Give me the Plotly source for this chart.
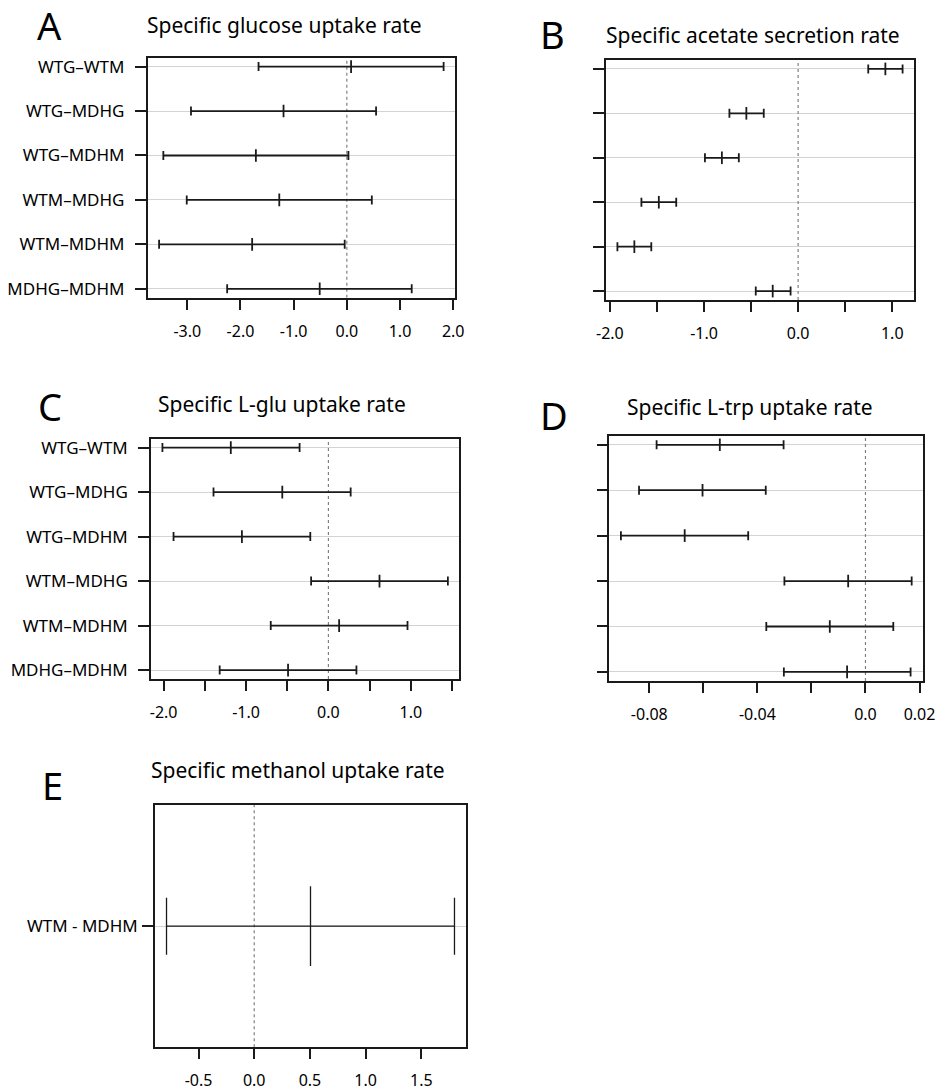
import plotly.graph_objects as go

W, H = 945, 1091

# ---------------- data ----------------
comparisons = ["WTG–WTM", "WTG–MDHG", "WTG–MDHM", "WTM–MDHG", "WTM–MDHM", "MDHG–MDHM"]
row_pos = [6, 5, 4, 3, 2, 1]

glucose_lwr = [-1.66, -2.93, -3.45, -3.01, -3.53, -2.25]
glucose_diff = [0.08, -1.19, -1.71, -1.27, -1.78, -0.51]
glucose_upr = [1.82, 0.55, 0.03, 0.47, -0.04, 1.22]

acetate_lwr = [0.745, -0.73, -0.99, -1.665, -1.92, -0.45]
acetate_diff = [0.927, -0.55, -0.81, -1.48, -1.74, -0.27]
acetate_upr = [1.11, -0.365, -0.63, -1.295, -1.56, -0.08]

lglu_lwr = [-2.015, -1.395, -1.88, -0.21, -0.70, -1.32]
lglu_diff = [-1.185, -0.56, -1.05, 0.62, 0.13, -0.49]
lglu_upr = [-0.35, 0.27, -0.22, 1.45, 0.96, 0.34]

ltrp_lwr = [-0.0773, -0.0838, -0.0905, -0.0300, -0.0367, -0.0302]
ltrp_diff = [-0.0539, -0.0603, -0.0669, -0.0064, -0.0132, -0.0068]
ltrp_upr = [-0.0303, -0.0369, -0.0434, 0.0171, 0.0103, 0.0167]

methanol_labels = ["WTM - MDHM"]
methanol_lwr = [-0.787]
methanol_diff = [0.505]
methanol_upr = [1.797]

titles = ["Specific glucose uptake rate", "Specific acetate secretion rate",
          "Specific L-glu uptake rate", "Specific L-trp uptake rate",
          "Specific methanol uptake rate"]
letters = ["A", "B", "C", "D", "E"]

xtick_vals_A = [-3, -2, -1, 0, 1, 2]
xtick_text_A = ["-3.0", "-2.0", "-1.0", "0.0", "1.0", "2.0"]
xtick_vals_B = [-2, -1.5, -1, -0.5, 0, 0.5, 1]
xtick_text_B = ["-2.0", "", "-1.0", "", "0.0", "", "1.0"]
xtick_vals_C = [-2, -1.5, -1, -0.5, 0, 0.5, 1, 1.5]
xtick_text_C = ["-2.0", "", "-1.0", "", "0.0", "", "1.0", ""]
xtick_vals_D = [-0.08, -0.06, -0.04, -0.02, 0, 0.02]
xtick_text_D = ["-0.08", "", "-0.04", "", "0.0", "0.02"]
xtick_vals_E = [-0.5, 0, 0.5, 1, 1.5]
xtick_text_E = ["-0.5", "0.0", "0.5", "1.0", "1.5"]

# ---------------- layout helpers ----------------
FONT = "Noto Sans"
INK = "#1a1a1a"


def px_x(p):
    return p / W


def px_y(p):
    return 1 - p / H


def ext(vals_lo, vals_hi, f=0.04):
    lo, hi = min(vals_lo), max(vals_hi)
    d = (hi - lo) * f
    return [lo - d, hi + d]


panels = [
    dict(lwr=glucose_lwr, diff=glucose_diff, upr=glucose_upr, labels=comparisons, ys=row_pos,
         box=(147.7, 455, 57.7, 297.7), tv=xtick_vals_A, tt=xtick_text_A, show_lab=True,
         title_xy=(284.7, 25), letter_xy=(49.5, 25), cap=4.5, mid=9, lw=1.8, ylab_pad=7),
    dict(lwr=acetate_lwr, diff=acetate_diff, upr=acetate_upr, labels=comparisons, ys=row_pos,
         box=(606, 914, 60, 300), tv=xtick_vals_B, tt=xtick_text_B, show_lab=False,
         title_xy=(753, 35.5), letter_xy=(552.5, 34), cap=4.5, mid=9, lw=1.8, ylab_pad=7),
    dict(lwr=lglu_lwr, diff=lglu_diff, upr=lglu_upr, labels=comparisons, ys=row_pos,
         box=(151, 459.3, 438.7, 679), tv=xtick_vals_C, tt=xtick_text_C, show_lab=True,
         title_xy=(282, 403.5), letter_xy=(50, 406), cap=4.5, mid=9, lw=1.8, ylab_pad=7),
    dict(lwr=ltrp_lwr, diff=ltrp_diff, upr=ltrp_upr, labels=comparisons, ys=row_pos,
         box=(609.3, 923.3, 435.7, 681), tv=xtick_vals_D, tt=xtick_text_D, show_lab=False,
         title_xy=(750, 407), letter_xy=(554, 414.5), cap=4.5, mid=9, lw=1.8, ylab_pad=7),
    dict(lwr=methanol_lwr, diff=methanol_diff, upr=methanol_upr, labels=methanol_labels, ys=[1],
         box=(155, 466, 805, 1047.3), tv=xtick_vals_E, tt=xtick_text_E, show_lab=True,
         title_xy=(298.3, 769.5), letter_xy=(52.5, 784.7), cap=28.5, mid=57, lw=1.3, ylab_pad=1),
]

fig = go.Figure()
layout = dict(
    width=W, height=H, margin=dict(l=0, r=0, t=0, b=0),
    paper_bgcolor="white", plot_bgcolor="white", showlegend=False,
    font=dict(family=FONT, size=15, color="black"),
)
annotations = []

for i, p in enumerate(panels):
    n = "" if i == 0 else str(i + 1)
    xa, ya = "x" + n, "y" + n
    xr = ext(p["lwr"], p["upr"])
    if len(p["ys"]) > 1:
        yr = ext(p["ys"], p["ys"])
    else:
        yr = [p["ys"][0] - 0.5, p["ys"][0] + 0.5]

    # dotted zero reference line
    fig.add_trace(go.Scatter(x=[0, 0], y=yr, mode="lines", xaxis=xa, yaxis=ya,
                             line=dict(color="#808080", width=1.2, dash="dot"),
                             hoverinfo="skip"))
    plus = [u - d for u, d in zip(p["upr"], p["diff"])]
    minus = [d - l for d, l in zip(p["diff"], p["lwr"])]
    fig.add_trace(go.Scatter(
        x=p["diff"], y=p["ys"], mode="markers", xaxis=xa, yaxis=ya,
        error_x=dict(type="data", symmetric=False, array=plus, arrayminus=minus,
                     width=p["cap"], thickness=p["lw"], color=INK),
        marker=dict(symbol="line-ns-open", size=p["mid"], color=INK,
                    line=dict(width=p["lw"], color=INK)),
    ))

    x0, x1, y0, y1 = p["box"]
    layout["xaxis" + n] = dict(
        domain=[px_x(x0), px_x(x1)], anchor=ya, range=xr, automargin=False,
        showline=True, mirror=True, linecolor=INK, linewidth=1.6,
        ticks="outside", ticklen=10, tickwidth=1.6, tickcolor=INK,
        tickvals=p["tv"], ticktext=p["tt"], ticklabelstandoff=8,
        showgrid=False, zeroline=False, tickfont=dict(size=16, color="black"),
    )
    layout["yaxis" + n] = dict(
        domain=[px_y(y1), px_y(y0)], anchor=xa, range=yr, automargin=False,
        showline=True, mirror=True, linecolor=INK, linewidth=1.6,
        ticks="outside", ticklen=11, tickwidth=1.6, tickcolor=INK,
        tickvals=p["ys"], ticktext=p["labels"] if p["show_lab"] else [""] * len(p["ys"]),
        ticklabelstandoff=p["ylab_pad"],
        showgrid=True, gridcolor="#d3d3d3", gridwidth=1, zeroline=False,
        tickfont=dict(size=17, color="black"),
    )
    tx, ty = p["title_xy"]
    annotations.append(dict(text=titles[i], x=px_x(tx), y=px_y(ty), xref="paper", yref="paper",
                            xanchor="center", yanchor="middle", showarrow=False,
                            font=dict(size=21, family=FONT, color="black")))
    lx, ly = p["letter_xy"]
    annotations.append(dict(text=letters[i], x=px_x(lx), y=px_y(ly), xref="paper", yref="paper",
                            xanchor="center", yanchor="middle", showarrow=False, borderpad=0,
                            font=dict(size=38, family=FONT, color="black")))

layout["annotations"] = annotations
fig.update_layout(**layout)
fig.write_html("out.html", config={"displayModeBar": False},
               post_script="document.body.style.margin='0';document.body.style.overflow='hidden';")
